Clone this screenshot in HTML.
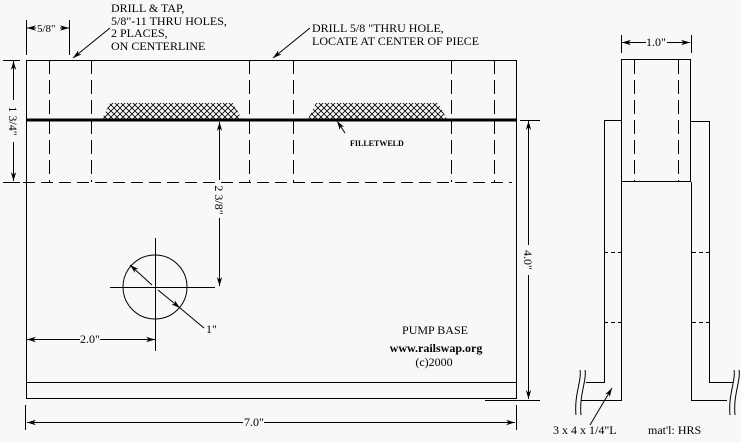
<!DOCTYPE html>
<html><head><meta charset="utf-8"><style>
html,body{margin:0;padding:0;background:#f8f8f8;}
svg{display:block;}
text{font-family:"Liberation Serif",serif;font-size:12px;fill:#000;}
</style></head><body>
<svg width="741" height="442" viewBox="0 0 741 442" xmlns="http://www.w3.org/2000/svg">
<defs>
<pattern id="hx" width="6" height="6" patternUnits="userSpaceOnUse">
<path d="M0 0L6 6M6 0L0 6" stroke="#000" stroke-width="0.8"/>
</pattern>
<marker id="a" viewBox="0 0 10 10" refX="10" refY="5" markerWidth="9" markerHeight="9" orient="auto-start-reverse"><path d="M0 2L10 5L0 8L3 5Z" fill="#000"/></marker>
</defs>
<g stroke="#000" stroke-width="1" fill="none">
<rect x="26.5" y="60.5" width="490" height="338"/>
<line x1="26" y1="382.5" x2="516" y2="382.5"/>
<line x1="26" y1="120" x2="516" y2="120" stroke-width="3"/>
<path d="M102 119L110 103H233L242 119Z" fill="url(#hx)" stroke="none"/>
<path d="M308 119L316 103H438L447 119Z" fill="url(#hx)" stroke="none"/>
<line x1="5" y1="182.5" x2="512" y2="182.5" stroke-dasharray="12,6"/>
<g stroke-dasharray="14,6">
<line x1="49.5" y1="60" x2="49.5" y2="182"/><line x1="91.5" y1="60" x2="91.5" y2="182"/>
<line x1="249.5" y1="60" x2="249.5" y2="182"/><line x1="293.5" y1="60" x2="293.5" y2="182"/>
<line x1="451.5" y1="60" x2="451.5" y2="182"/><line x1="494.5" y1="60" x2="494.5" y2="182"/>
</g>
<line x1="26.5" y1="20" x2="26.5" y2="55"/><line x1="69.5" y1="20" x2="69.5" y2="55"/>
<line x1="27" y1="28" x2="36" y2="28" marker-start="url(#a)"/><line x1="60" y1="28" x2="69" y2="28" marker-end="url(#a)"/>
<line x1="110" y1="28" x2="73" y2="58" marker-end="url(#a)"/>
<line x1="310" y1="28" x2="273" y2="58" marker-end="url(#a)"/>
<line x1="3" y1="60.5" x2="20" y2="60.5"/><line x1="3" y1="182.5" x2="20" y2="182.5"/>
<line x1="13.5" y1="61" x2="13.5" y2="100" marker-start="url(#a)"/><line x1="13.5" y1="142" x2="13.5" y2="181" marker-end="url(#a)"/>
<line x1="219.5" y1="180" x2="219.5" y2="122" marker-end="url(#a)"/>
<line x1="219.5" y1="218" x2="219.5" y2="286" marker-end="url(#a)"/>
<circle cx="155" cy="287" r="32"/>
<line x1="110" y1="287.5" x2="215" y2="287.5"/>
<line x1="155.5" y1="238" x2="155.5" y2="351"/>
<line x1="152" y1="285" x2="130" y2="265" marker-end="url(#a)"/>
<line x1="158" y1="290" x2="180" y2="308" marker-end="url(#a)"/>
<line x1="180" y1="308" x2="204" y2="328"/>
<line x1="27" y1="339.5" x2="80" y2="339.5" marker-start="url(#a)"/><line x1="100" y1="339.5" x2="155" y2="339.5" marker-end="url(#a)"/>
<line x1="520" y1="120.5" x2="540" y2="120.5"/><line x1="485" y1="400.5" x2="540" y2="400.5"/>
<line x1="528.5" y1="121" x2="528.5" y2="245" marker-start="url(#a)"/><line x1="528.5" y1="275" x2="528.5" y2="399" marker-end="url(#a)"/>
<line x1="25.5" y1="405" x2="25.5" y2="430"/><line x1="516.5" y1="405" x2="516.5" y2="430"/>
<line x1="27" y1="422.5" x2="243" y2="422.5" marker-start="url(#a)"/><line x1="264" y1="422.5" x2="515" y2="422.5" marker-end="url(#a)"/>
<line x1="345" y1="133" x2="337" y2="121" marker-end="url(#a)"/>
<rect x="621.5" y="59.5" width="69" height="122"/>
<line x1="634.5" y1="60" x2="634.5" y2="182" stroke-dasharray="14,6"/>
<line x1="678.5" y1="60" x2="678.5" y2="182" stroke-dasharray="14,6"/>
<line x1="621.5" y1="35" x2="621.5" y2="53"/><line x1="691.5" y1="35" x2="691.5" y2="53"/>
<line x1="622" y1="42.5" x2="646" y2="42.5" marker-start="url(#a)"/><line x1="667" y1="42.5" x2="690" y2="42.5" marker-end="url(#a)"/>
<path d="M621.5 120.5H604.5V382.5H586"/>
<path d="M621.5 182V400.5H581"/>
<path d="M690.5 121.5H709.5V382.5H733"/>
<path d="M691.5 182V400.5H727"/>
<g stroke-dasharray="4,3">
<line x1="604" y1="252.5" x2="621" y2="252.5"/><line x1="604" y1="322.5" x2="621" y2="322.5"/>
<line x1="692" y1="252.5" x2="709" y2="252.5"/><line x1="692" y1="322.5" x2="709" y2="322.5"/>
</g>
<path d="M580 370C582 380 574 395 576 415M585 370C587 380 579 395 581 415"/>
<path d="M734 370C736 380 728 395 730 415M739 370C741 380 733 395 735 415"/>
<line x1="590" y1="425" x2="612" y2="388" marker-end="url(#a)"/>
</g>
<text x="111" y="12">DRILL &amp; TAP,</text>
<text x="111" y="25">5/8"-11 THRU HOLES,</text>
<text x="111" y="37">2 PLACES,</text>
<text x="111" y="50">ON CENTERLINE</text>
<text x="312" y="32">DRILL 5/8 "THRU HOLE,</text>
<text x="312" y="45">LOCATE AT CENTER OF PIECE</text>
<text x="37" y="32" style="font-size:11px">5/8"</text>
<text x="350" y="146" style="font-size:8px;font-weight:bold">FILLETWELD</text>
<text transform="translate(9,121) rotate(90)" text-anchor="middle">1 3/4"</text>
<text transform="translate(215,200) rotate(90)" text-anchor="middle">2 3/8"</text>
<text transform="translate(524,260) rotate(90)" text-anchor="middle">4.0"</text>
<text x="206" y="333">1"</text>
<text x="90" y="343" text-anchor="middle">2.0"</text>
<text x="254" y="426" text-anchor="middle">7.0"</text>
<text x="435" y="334" text-anchor="middle">PUMP BASE</text>
<text x="436" y="352" text-anchor="middle" style="font-weight:bold">www.railswap.org</text>
<text x="434" y="366" text-anchor="middle">(c)2000</text>
<text x="656" y="46" text-anchor="middle">1.0"</text>
<text x="553" y="434">3 x 4 x 1/4"L</text>
<text x="648" y="434">mat'l: HRS</text>
</svg>
</body></html>
